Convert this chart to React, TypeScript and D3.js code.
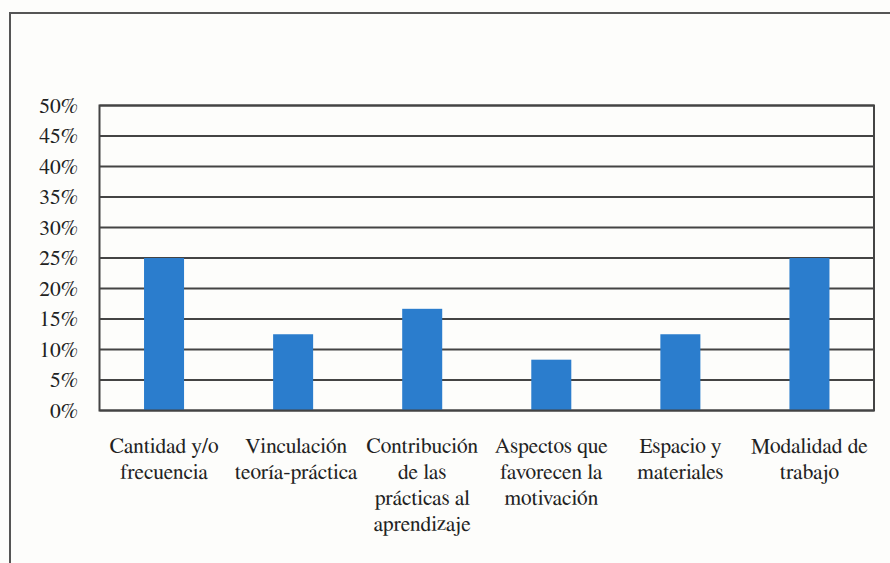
import React from 'react';
import * as d3 from 'd3';

// chart data
const categories = [
  'Cantidad y/o frecuencia',
  'Vinculación teoría-práctica',
  'Contribución de las prácticas al aprendizaje',
  'Aspectos que favorecen la motivación',
  'Espacio y materiales',
  'Modalidad de trabajo',
];
const labelLines = [
  ['Cantidad y/o', 'frecuencia'],
  ['Vinculación', 'teoría-práctica'],
  ['Contribución', 'de las', 'prácticas al', 'aprendizaje'],
  ['Aspectos que', 'favorecen la', 'motivación'],
  ['Espacio y', 'materiales'],
  ['Modalidad de', 'trabajo'],
];
const values = [0.25, 0.125, 0.1667, 0.0833, 0.125, 0.25];
const yTicks = [0, 0.05, 0.1, 0.15, 0.2, 0.25, 0.3, 0.35, 0.4, 0.45, 0.5];

const font = { fontFamily: 'FreeSerif, Tinos, "Liberation Serif", serif' };

export default function App() {
  const width = 890;
  const height = 563;
  const left = 99.5;
  const right = 874;
  const top = 105.5;
  const bottom = 410.5;

  const x = d3.scaleBand<string>()
    .domain(categories)
    .range([left, right])
    .paddingInner(0.69)
    .paddingOuter(0.345);

  const y = d3.scaleLinear().domain([0, 0.5]).range([bottom, top]);
  const fmt = d3.format('.0%');

  return (
    <svg width={width} height={height} style={{ position: 'absolute', left: 0, top: 0 }}>
      <rect x={0} y={0} width={width} height={height} fill="#fdfdfb" />
      {/* outer frame */}
      <path d={`M10,${height} V13 H${width}`} fill="none" stroke="#555" strokeWidth={2} />

      {/* grid lines */}
      {yTicks.map((t) => (
        <line key={t} x1={left} x2={right} y1={y(t)} y2={y(t)} stroke="#444" strokeWidth={2} />
      ))}

      {/* bars */}
      {categories.map((c, i) => (
        <rect key={c} x={x(c)} y={y(values[i])} width={x.bandwidth()} height={bottom - y(values[i])}
          fill="#2b7dcd" />
      ))}

      {/* plot border */}
      <rect x={left} y={top} width={right - left} height={bottom - top} fill="none" stroke="#444" strokeWidth={2} />

      {/* y labels */}
      {yTicks.map((t) => (
        <text key={t} x={78} y={y(t)} dy="0.33em" textAnchor="end" fontSize={21.5} fill="#222" style={font}>
          {fmt(t)}
        </text>
      ))}

      {/* category labels, one text per line */}
      {categories.map((c, i) =>
        labelLines[i].map((l, j) => (
          <text key={c + j} x={(x(c) as number) + x.bandwidth() / 2 + (i === 1 ? 3 : 0)} y={453 + j * 26}
            textAnchor="middle" fontSize={21.5} fill="#222" style={font}>
            {l}
          </text>
        ))
      )}
    </svg>
  );
}
